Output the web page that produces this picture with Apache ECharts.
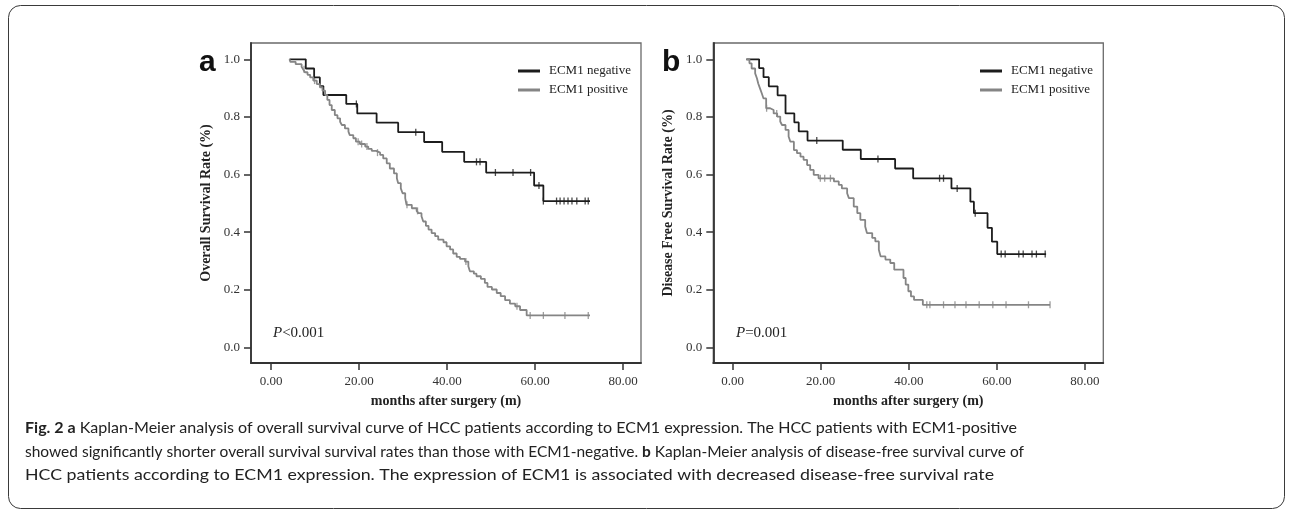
<!DOCTYPE html>
<html>
<head>
<meta charset="utf-8">
<script src="https://cdn.jsdelivr.net/npm/echarts@6/dist/echarts.min.js"></script>
<style>
  html, body { margin: 0; padding: 0; background: #fff; }
  #chart { width: 1292px; height: 511px; }
</style>
</head>
<body>
<div id="chart"></div>
<script>
// tick labels
const ticksX = [0, 20, 40, 60, 80];
const ticksY = [0, 0.2, 0.4, 0.6, 0.8, 1.0];
const groupNames = ['ECM1 negative', 'ECM1 positive'];

// panel a, overall survival: [month, survival after the event]
const osNeg = [[4.2, 1.0], [7.9, 0.968], [9.8, 0.937], [11.1, 0.907], [11.9, 0.876], [17.1, 0.845], [19.6, 0.812],
  [24.0, 0.780], [28.9, 0.747], [34.8, 0.713], [38.9, 0.679], [43.9, 0.644], [48.9, 0.607], [59.8, 0.562],
  [61.9, 0.508], [72.5, 0.508]];
const osNegCensor = [19.4, 32.9, 46.7, 47.5, 51.0, 55.0, 59.0, 60.9, 61.9, 64.9, 65.7, 66.6, 67.5, 68.4, 69.5, 71.4, 72.1];
const osPos = [[4.2, 1.0], [4.4, 0.991], [5.6, 0.983], [6.95, 0.974], [7.3, 0.965], [7.7, 0.955], [8.3, 0.946],
  [8.9, 0.937], [9.6, 0.926], [10.4, 0.914], [11.1, 0.903], [11.7, 0.891], [12.3, 0.876], [12.8, 0.859],
  [13.3, 0.841], [13.8, 0.824], [14.5, 0.806], [15.1, 0.795], [15.7, 0.783], [16.1, 0.772], [16.8, 0.760],
  [17.6, 0.749], [17.9, 0.737], [18.7, 0.726], [19.3, 0.714], [20.2, 0.706], [21.4, 0.697], [22.1, 0.689],
  [22.9, 0.682], [23.9, 0.676], [24.8, 0.668], [25.5, 0.656], [26.3, 0.639], [27.0, 0.621], [27.95, 0.604],
  [28.6, 0.587], [28.9, 0.570], [29.5, 0.552], [29.9, 0.535], [30.5, 0.518], [30.8, 0.495], [32.0, 0.483],
  [33.1, 0.474], [33.5, 0.466], [34.2, 0.455], [34.6, 0.437], [35.2, 0.422], [35.8, 0.409], [36.5, 0.397],
  [37.3, 0.386], [38.0, 0.374], [39.2, 0.365], [39.9, 0.351], [40.7, 0.340], [41.4, 0.326], [42.2, 0.314],
  [42.95, 0.307], [44.1, 0.298], [44.85, 0.282], [45.2, 0.264], [46.1, 0.256], [46.7, 0.247], [47.7, 0.238],
  [48.6, 0.224], [49.2, 0.210], [50.2, 0.201], [51.3, 0.189], [52.2, 0.178], [53.2, 0.164], [54.3, 0.152],
  [55.5, 0.143], [56.6, 0.130], [58.1, 0.111], [72.5, 0.111]];
const osPosCensor = [7.5, 9.9, 19.8, 20.6, 21.8, 24.2, 30.9, 33.3, 44.3, 55.9, 58.9, 61.9, 66.8, 72.1];

// panel b, disease free survival
const dfsNeg = [[3.1, 1.0], [6.0, 0.969], [7.0, 0.938], [8.2, 0.906], [10.2, 0.875], [12.0, 0.812], [14.0, 0.781],
  [15.0, 0.750], [17.0, 0.718], [25.0, 0.686], [29.1, 0.654], [36.9, 0.621], [41.0, 0.587], [49.7, 0.552],
  [54.0, 0.506], [54.8, 0.466], [57.9, 0.415], [58.9, 0.367], [60.1, 0.324], [71.2, 0.324]];
const dfsNegCensor = [19.1, 33.0, 47.0, 47.9, 51.0, 55.1, 61.0, 61.9, 65.0, 66.0, 68.0, 69.0, 71.0];
const dfsPos = [[3.1, 1.0], [3.8, 0.986], [4.3, 0.968], [5.1, 0.951], [5.5, 0.934], [5.8, 0.916], [6.2, 0.899],
  [6.6, 0.882], [7.0, 0.864], [7.6, 0.830], [8.5, 0.824], [9.3, 0.812], [10.1, 0.801], [10.8, 0.784],
  [11.2, 0.772], [12.0, 0.755], [12.7, 0.732], [13.1, 0.714], [13.9, 0.685], [14.6, 0.674], [15.4, 0.662],
  [16.1, 0.651], [16.9, 0.633], [17.6, 0.616], [18.4, 0.599], [19.5, 0.587], [23.0, 0.576], [24.1, 0.564],
  [24.8, 0.552], [26.0, 0.535], [26.4, 0.518], [27.5, 0.489], [28.3, 0.466], [29.0, 0.443], [30.1, 0.420],
  [30.5, 0.397], [31.7, 0.380], [32.4, 0.368], [33.2, 0.339], [33.6, 0.316], [34.7, 0.305], [35.8, 0.293],
  [36.7, 0.270], [38.8, 0.241], [39.3, 0.218], [39.9, 0.195], [40.5, 0.177], [41.2, 0.165], [43.2, 0.148],
  [72.1, 0.148]];
const dfsPosCensor = [7.7, 10.0, 19.9, 20.9, 22.2, 44.1, 44.8, 47.9, 50.5, 53.0, 56.0, 59.1, 62.1, 67.2, 72.1];

// caption: [bold, normal, bold, normal ...] per line
const captionLines = [
  ['Fig. 2 a', ' Kaplan-Meier analysis of overall survival curve of HCC patients according to ECM1 expression. The HCC patients with ECM1-positive'],
  ['', 'showed significantly shorter overall survival survival rates than those with ECM1-negative. ', 'b', ' Kaplan-Meier analysis of disease-free survival curve of'],
  ['', 'HCC patients according to ECM1 expression. The expression of ECM1 is associated with decreased disease-free survival rate']
];
const captionEnds = [1017, 1024, 994];

const BLACK = '#1c1c1c';
const GRAY = '#858585';
const serif = '"Liberation Serif", "Times New Roman", serif';
const capFont = 'Lato, "Open Sans", sans-serif';

// censored times sit on the curve level at that time
function levelAt(steps, m) {
  let s = steps[0][1];
  steps.forEach(p => { if (p[0] <= m) s = p[1]; });
  return s;
}
function censorPoints(steps, months) {
  return months.map(m => [m, levelAt(steps, m)]);
}

// caption font fitted on the first line, then each line stretched to its width in the figure
const ctx = document.createElement('canvas').getContext('2d');
function lineWidth(parts, size) {
  let w = 0;
  parts.forEach((p, j) => {
    ctx.font = (j % 2 === 0 ? 'bold ' : '') + size + 'px ' + capFont;
    w += ctx.measureText(p).width;
  });
  return w;
}
const capSize = +(16 * (captionEnds[0] - 25) / lineWidth(captionLines[0], 16)).toFixed(2);

function xAxisFor(grid, min, max) {
  return {
    gridIndex: grid, type: 'value', min: min, max: max,
    axisLine: { show: true, onZero: false, lineStyle: { color: '#333', width: 1.8 } },
    axisTick: { show: true, length: 7, customValues: ticksX, lineStyle: { color: '#333', width: 1.5 } },
    axisLabel: { customValues: ticksX, formatter: v => v.toFixed(2), fontFamily: serif, fontSize: 13, color: '#333', margin: 12 },
    splitLine: { show: false },
    name: 'months after surgery (m)', nameLocation: 'middle', nameGap: 31,
    nameTextStyle: { fontFamily: serif, fontWeight: 'bold', fontSize: 14, color: '#222' }
  };
}
function yAxisFor(grid, name) {
  return {
    gridIndex: grid, type: 'value', min: -0.054, max: 1.0565,
    axisLine: { show: true, onZero: false, lineStyle: { color: '#333', width: 1.8 } },
    axisTick: { show: true, length: 7, customValues: ticksY, lineStyle: { color: '#333', width: 1.5 } },
    axisLabel: { customValues: ticksY, formatter: v => v.toFixed(1), fontFamily: serif, fontSize: 13, color: '#333', margin: 11 },
    splitLine: { show: false },
    name: name, nameLocation: 'middle', nameGap: 38,
    nameTextStyle: { fontFamily: serif, fontWeight: 'bold', fontSize: 14, color: '#222' }
  };
}
function stepSeries(name, data, color, idx) {
  return {
    name: name, type: 'line', step: 'end', data: data, xAxisIndex: idx, yAxisIndex: idx,
    showSymbol: false, symbol: 'none', animation: false,
    lineStyle: { color: color, width: 1.8 }, itemStyle: { color: color }
  };
}
function censorSeries(name, data, color, idx) {
  return {
    name: name, type: 'scatter', data: data, xAxisIndex: idx, yAxisIndex: idx,
    symbol: 'rect', symbolSize: [1.3, 7], animation: false,
    itemStyle: { color: color }
  };
}
function legendAt(left) {
  return {
    orient: 'vertical', left: left, top: 59.5, itemWidth: 22, itemHeight: 3, itemGap: 6,
    icon: 'rect', selectedMode: false, data: groupNames,
    textStyle: { fontFamily: serif, fontSize: 13, color: '#222', padding: [0, 0, 0, 4] }
  };
}

const chart = echarts.init(document.getElementById('chart'), null, { renderer: 'canvas' });
const option = {
  backgroundColor: '#fff',
  animation: false,
  grid: [
    { left: 251, top: 43, width: 390, height: 320, show: true, borderColor: '#6a6a6a', borderWidth: 1.3 },
    { left: 713.3, top: 43, width: 390, height: 320, show: true, borderColor: '#6a6a6a', borderWidth: 1.3 }
  ],
  xAxis: [xAxisFor(0, -4.55, 84.09), xAxisFor(1, -4.41, 84.2)],
  yAxis: [yAxisFor(0, 'Overall Survival Rate (%)'), yAxisFor(1, 'Disease Free Survival Rate (%)')],
  legend: [legendAt(513), legendAt(975)],
  series: [
    stepSeries(groupNames[0], osNeg, BLACK, 0),
    stepSeries(groupNames[1], osPos, GRAY, 0),
    censorSeries('osNegCensor', censorPoints(osNeg, osNegCensor), BLACK, 0),
    censorSeries('osPosCensor', censorPoints(osPos, osPosCensor), GRAY, 0),
    stepSeries(groupNames[0], dfsNeg, BLACK, 1),
    stepSeries(groupNames[1], dfsPos, GRAY, 1),
    censorSeries('dfsNegCensor', censorPoints(dfsNeg, dfsNegCensor), BLACK, 1),
    censorSeries('dfsPosCensor', censorPoints(dfsPos, dfsPosCensor), GRAY, 1)
  ],
  graphic: [
    {
      type: 'rect', shape: { x: 8.5, y: 5.5, width: 1276, height: 503, r: 12 },
      style: { fill: 'none', stroke: '#3a3a3a', lineWidth: 1 }, silent: true
    },
    { type: 'text', x: 199, y: 48, style: { text: 'a', font: 'bold 30px "Liberation Sans", Arial, sans-serif', fill: '#111', verticalAlign: 'alphabetic' } },
    { type: 'text', x: 662, y: 48, style: { text: 'b', font: 'bold 30px "Liberation Sans", Arial, sans-serif', fill: '#111', verticalAlign: 'alphabetic' } },
    {
      type: 'text', x: 273, y: 333,
      style: {
        text: '{i|P}{n|<0.001}', verticalAlign: 'middle',
        rich: { i: { fontFamily: serif, fontStyle: 'italic', fontSize: 15, fill: '#222' }, n: { fontFamily: serif, fontSize: 15, fill: '#222' } }
      }
    },
    {
      type: 'text', x: 736, y: 333,
      style: {
        text: '{i|P}{n|=0.001}', verticalAlign: 'middle',
        rich: { i: { fontFamily: serif, fontStyle: 'italic', fontSize: 15, fill: '#222' }, n: { fontFamily: serif, fontSize: 15, fill: '#222' } }
      }
    }
  ].concat(captionLines.map((parts, i) => {
    const text = parts.map((p, j) => p ? (j % 2 === 0 ? '{b|' + p + '}' : '{n|' + p + '}') : '').join('');
    return {
      type: 'text', x: 25, y: [428.3, 451.7, 475][i],
      scaleX: (captionEnds[i] - 25) / lineWidth(parts, capSize),
      style: {
        text: text, verticalAlign: 'middle',
        rich: {
          b: { fontFamily: capFont, fontWeight: 'bold', fontSize: capSize, fill: '#222' },
          n: { fontFamily: capFont, fontSize: capSize, fill: '#222' }
        }
      }
    };
  }))
};
chart.setOption(option);
</script>
</body>
</html>
